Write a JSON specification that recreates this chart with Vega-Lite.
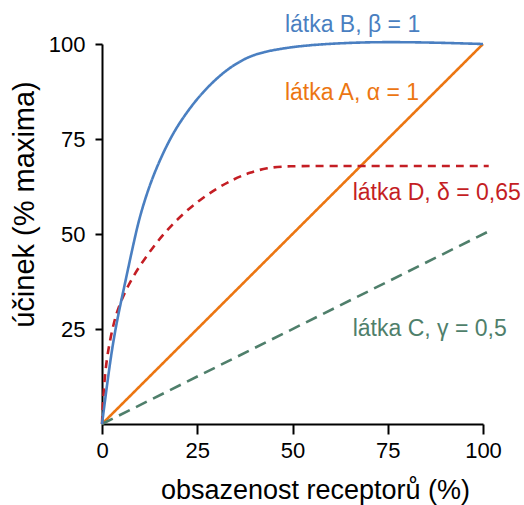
{
  "$schema": "https://vega.github.io/schema/vega-lite/v6.json",
  "width": 381,
  "height": 380,
  "autosize": "none",
  "padding": {"left": 102, "top": 44, "right": 41, "bottom": 81},
  "background": "white",
  "config": {"view": {"stroke": null}, "font": "Liberation Sans"},
  "layer": [
    {
      "data": {
        "values": [
          {"series": "A", "x": 0, "y": 0},
          {"series": "A", "x": 100, "y": 100},
          {"series": "C", "x": 0, "y": 0},
          {"series": "C", "x": 101.5, "y": 50.7},
          {"series": "D", "x": 0, "y": 0},
          {"series": "D", "x": 0.3, "y": 7},
          {"series": "D", "x": 1.1, "y": 17},
          {"series": "D", "x": 2.9, "y": 26},
          {"series": "D", "x": 4.2, "y": 30.5},
          {"series": "D", "x": 6.8, "y": 36.5},
          {"series": "D", "x": 10, "y": 41.8},
          {"series": "D", "x": 13.5, "y": 46.7},
          {"series": "D", "x": 17, "y": 51},
          {"series": "D", "x": 21.3, "y": 55.4},
          {"series": "D", "x": 25.7, "y": 59},
          {"series": "D", "x": 30.1, "y": 62},
          {"series": "D", "x": 34.5, "y": 64.4},
          {"series": "D", "x": 38.8, "y": 66.2},
          {"series": "D", "x": 43.2, "y": 67.4},
          {"series": "D", "x": 48.5, "y": 67.9},
          {"series": "D", "x": 60, "y": 67.9},
          {"series": "D", "x": 101.5, "y": 67.9},
          {"series": "B", "x": 0, "y": 0},
          {"series": "B", "x": 1.6, "y": 12.5},
          {"series": "B", "x": 2.9, "y": 21.5},
          {"series": "B", "x": 4.3, "y": 29},
          {"series": "B", "x": 5.5, "y": 34.5},
          {"series": "B", "x": 7.3, "y": 43},
          {"series": "B", "x": 8.5, "y": 48.5},
          {"series": "B", "x": 10, "y": 55},
          {"series": "B", "x": 12.6, "y": 63.2},
          {"series": "B", "x": 15.2, "y": 69.5},
          {"series": "B", "x": 17.5, "y": 74.3},
          {"series": "B", "x": 20, "y": 78.8},
          {"series": "B", "x": 24.4, "y": 85},
          {"series": "B", "x": 28.8, "y": 89.8},
          {"series": "B", "x": 33.2, "y": 93.6},
          {"series": "B", "x": 37.5, "y": 96.2},
          {"series": "B", "x": 41.9, "y": 97.9},
          {"series": "B", "x": 50.7, "y": 99.4},
          {"series": "B", "x": 60, "y": 100.1},
          {"series": "B", "x": 70, "y": 100.5},
          {"series": "B", "x": 80, "y": 100.5},
          {"series": "B", "x": 90, "y": 100.3},
          {"series": "B", "x": 100, "y": 100}
        ]
      },
      "mark": {"type": "line", "strokeWidth": 2.6, "clip": false, "interpolate": "basis"},
      "encoding": {
        "x": {
          "field": "x", "type": "quantitative",
          "scale": {"domain": [0, 100], "nice": false},
          "axis": {
            "values": [0, 25, 50, 75, 100], "grid": false, "labelFlush": false,
            "domainColor": "black", "domainWidth": 2,
            "tickColor": "black", "tickWidth": 2, "tickSize": 10,
            "labelFontSize": 22, "labelColor": "black", "labelPadding": 6,
            "title": "obsazenost receptorů (%)", "titleFontSize": 27, "titleFontWeight": "normal",
            "titleColor": "black", "titleX": 213, "titleY": 74, "titleBaseline": "alphabetic", "titleAlign": "center"
          }
        },
        "y": {
          "field": "y", "type": "quantitative",
          "scale": {"domain": [0, 100], "nice": false},
          "axis": {
            "values": [25, 50, 75, 100], "grid": false, "labelFlush": false,
            "domainColor": "black", "domainWidth": 2,
            "tickColor": "black", "tickWidth": 2, "tickSize": 7,
            "labelFontSize": 22, "labelColor": "black", "labelPadding": 10,
            "title": "účinek (% maxima)", "titleFontSize": 29, "titleFontWeight": "normal",
            "titleColor": "black", "titleX": -69, "titleY": 160, "titleAngle": -90,
            "titleBaseline": "alphabetic", "titleAlign": "center"
          }
        },
        "color": {
          "field": "series", "type": "nominal",
          "scale": {"domain": ["A", "C", "D", "B"], "range": ["#ec7612", "#4f7f6b", "#c41e24", "#4a7fc1"]},
          "legend": null
        },
        "strokeDash": {
          "field": "series", "type": "nominal",
          "scale": {"domain": ["A", "C", "D", "B"], "range": [[1, 0], [12, 7], [8, 6], [1, 0]]},
          "legend": null
        }
      }
    },
    {
      "data": {
        "values": [
          {"label": "látka B, β = 1", "x": 48, "y": 103.2, "series": "B"},
          {"label": "látka A, α = 1", "x": 48, "y": 85.3, "series": "A"},
          {"label": "látka D, δ = 0,65", "x": 65.8, "y": 58.9, "series": "D"},
          {"label": "látka C, γ = 0,5", "x": 65.8, "y": 23.2, "series": "C"}
        ]
      },
      "mark": {"type": "text", "align": "left", "baseline": "alphabetic", "fontSize": 23},
      "encoding": {
        "x": {"field": "x", "type": "quantitative"},
        "y": {"field": "y", "type": "quantitative"},
        "text": {"field": "label"},
        "color": {
          "field": "series", "type": "nominal",
          "scale": {"domain": ["A", "C", "D", "B"], "range": ["#ec7612", "#4f7f6b", "#c41e24", "#3a7cc0"]},
          "legend": null
        }
      }
    }
  ]
}
